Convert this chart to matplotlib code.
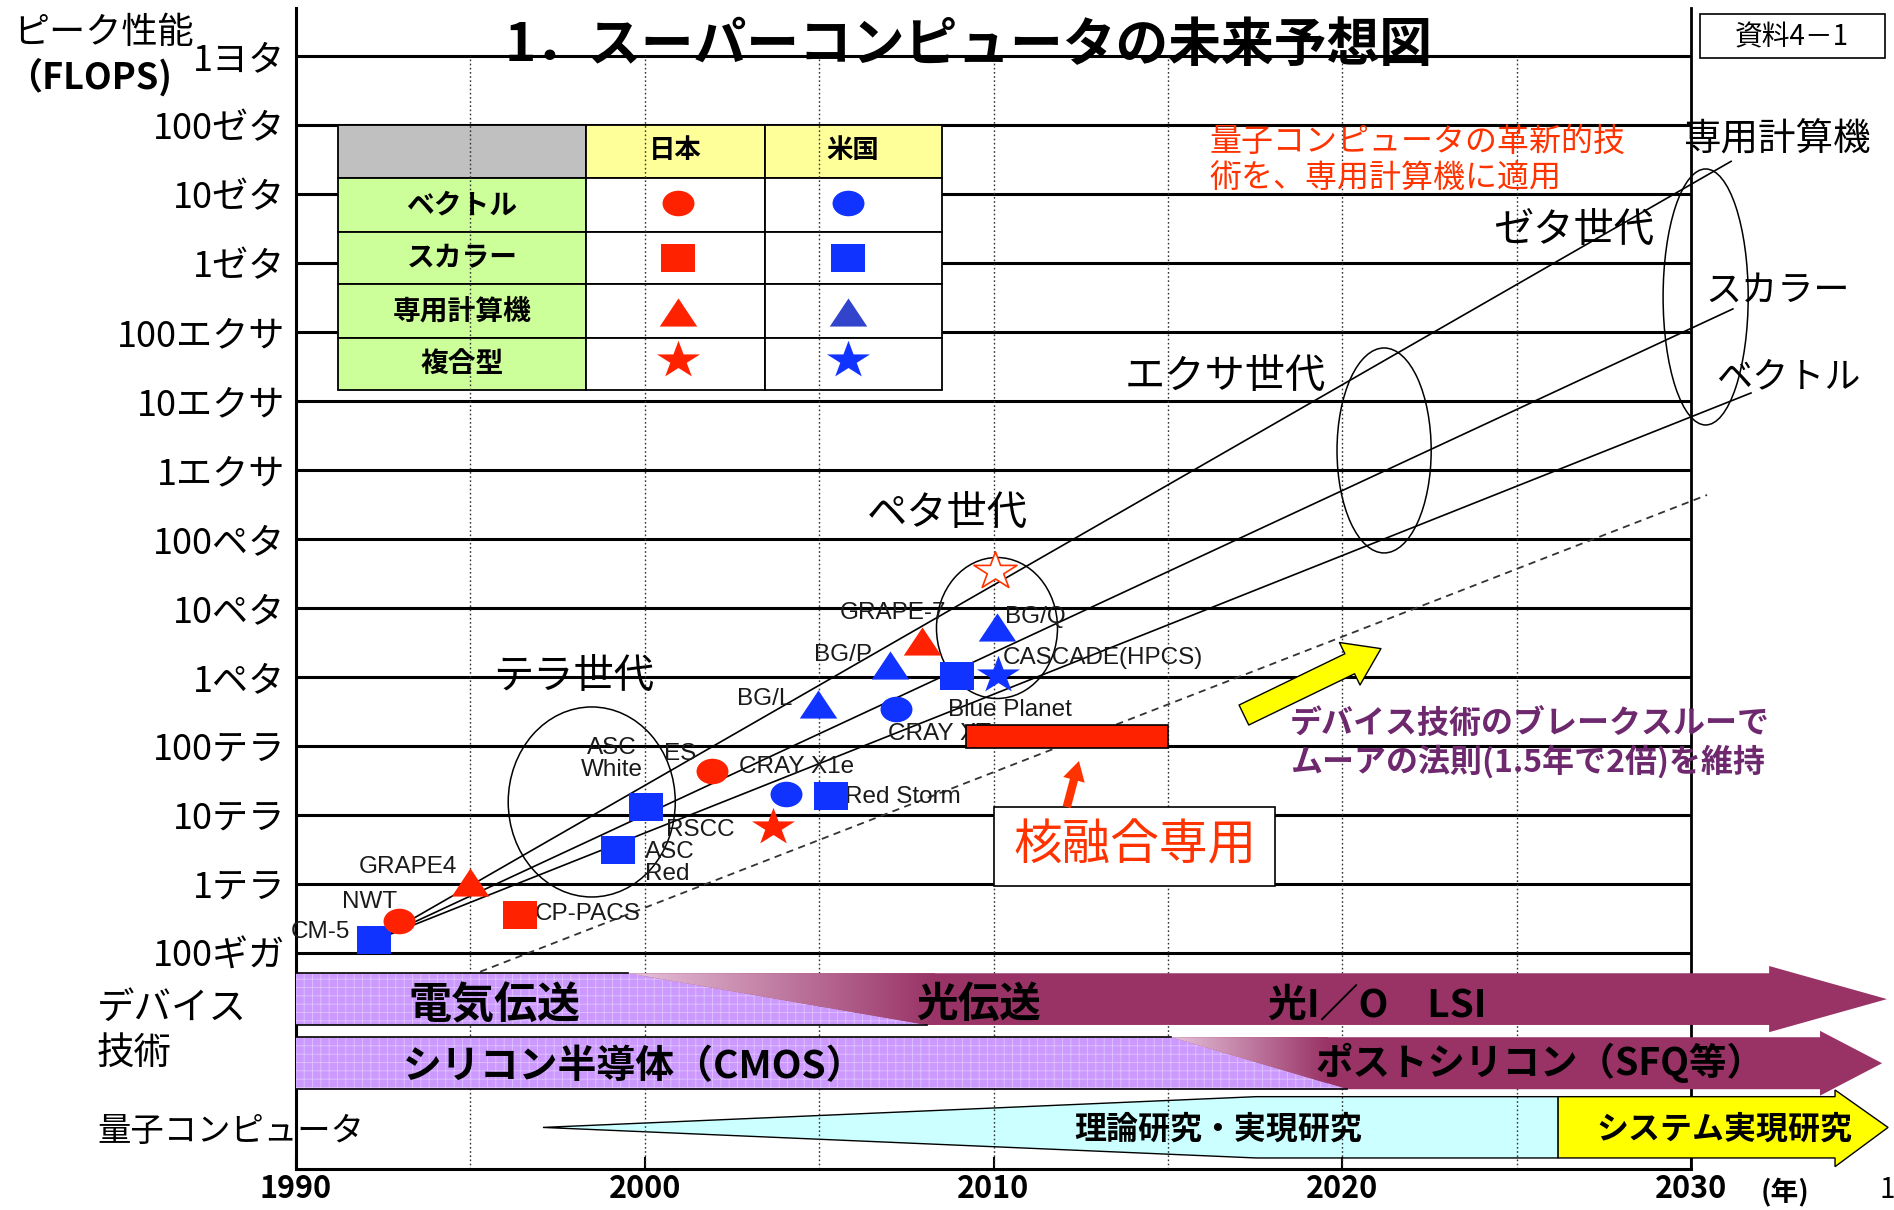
import numpy as np
import matplotlib.pyplot as plt
from matplotlib.patches import Polygon, Rectangle, Ellipse, FancyArrowPatch
from matplotlib.path import Path
from matplotlib.transforms import Affine2D

plt.rcParams['font.family'] = ['Noto Sans CJK JP', 'DejaVu Sans']
plt.rcParams['hatch.linewidth'] = 0.6

# ---- data ----
year_ticks = [1990, 2000, 2010, 2020, 2030]
flops_exp = list(range(11, 25))
flops_labels = ['100ギガ', '1テラ', '10テラ', '100テラ', '1ペタ', '10ペタ', '100ペタ',
                '1エクサ', '10エクサ', '100エクサ', '1ゼタ', '10ゼタ', '100ゼタ', '1ヨタ']

machine_year = [1992.24, 1992.96, 1995.0, 1996.42, 1999.24, 2000.05, 2001.93, 2003.69,
                2004.06, 2005.33, 2004.98, 2007.2, 2007.03, 2007.96, 2008.96, 2010.09, 2010.12]
machine_flops = [1.53e11, 2.9e11, 1.07e12, 3.5e11, 3.1e12, 1.3e13, 4.3e13, 6.7e12,
                 2.0e13, 1.85e13, 4.1e14, 3.4e14, 1.5e15, 3.3e15, 1.03e15, 5.3e15, 1.07e15]
machine_country = ['US', 'JP', 'JP', 'JP', 'US', 'US', 'JP', 'JP',
                   'US', 'US', 'US', 'US', 'US', 'JP', 'US', 'US', 'US']
machine_kind = ['scalar', 'vector', 'special', 'scalar', 'scalar', 'scalar', 'vector', 'hybrid',
                'vector', 'scalar', 'special', 'vector', 'special', 'special', 'scalar', 'special', 'hybrid']

target_year = 2010.04
target_flops = 3.4e16

label_text = ['CM-5', 'NWT', 'GRAPE4', 'CP-PACS', 'ASC\nRed', 'ASC\nWhite', 'ES', 'RSCC',
              'CRAY X1e', 'Red Storm', 'BG/L', 'CRAY XT', 'BG/P', 'GRAPE-7',
              'Blue Planet', 'BG/Q', 'CASCADE(HPCS)']
label_year = [1991.55, 1992.12, 1993.21, 1996.85, 2000.01, 1999.06, 2001.01, 2001.58,
              2002.70, 2005.74, 2003.45, 2006.97, 2005.68, 2007.12, 2008.70, 2010.33, 2010.27]
label_exp = [11.30, 11.736, 12.243, 11.562, 12.301, 13.81, 13.882, 12.78,
             13.694, 13.26, 14.68, 14.172, 15.318, 15.927, 14.52, 15.869, 15.274]
label_ha = ['right', 'center', 'center', 'left', 'left', 'center', 'center', 'center',
            'left', 'left', 'center', 'left', 'center', 'center', 'left', 'left', 'left']

trend_names = ['専用計算機', 'スカラー', 'ベクトル']
trend_start_year = 1992.29
trend_start_flops = 1.53e11
trend_end_year = [2031.15, 2031.20, 2031.72]
trend_end_flops = [3.0e22, 2.17e20, 1.31e19]
trend_label_year = [2032.47, 2032.47, 2032.78]
trend_label_exp = [22.787, 20.597, 19.35]

moore_year = [1995.28, 2030.46]
moore_flops = [5.3e10, 4.35e17]

gen_names = ['テラ世代', 'ペタ世代', 'エクサ世代', 'ゼタ世代']
gen_year = [1998.48, 2010.10, 2021.20, 2030.42]
gen_exp = [13.186, 15.709, 18.284, 20.510]
gen_width_years = [4.79, 3.47, 2.70, 2.44]
gen_height_dec = [2.756, 2.045, 2.973, 3.713]
gen_label_year = [1997.97, 2008.67, 2016.64, 2026.62]
gen_label_exp = [14.999, 17.363, 19.35, 21.481]

fusion_year = [2009.2, 2015.0]
fusion_flops = [9.3e13, 2.0e14]

RED = '#FF2200'
BLUE = '#1133FF'
PURPLE = '#CC99FF'
MAG = '#993366'

W, H = 1894, 1210
fig = plt.figure(figsize=(W / 100, H / 100), dpi=100)
ax = fig.add_axes([296 / W, (H - 1169.3) / H, (1691 - 296) / W, (1169.3 - 8) / H])
PX = Affine2D().scale(1 / W, -1 / H).translate(0, 1) + fig.transFigure
LAT = ['Liberation Sans', 'Noto Sans CJK JP']

# axes frame and ticks
ax.spines['top'].set_visible(False)
ax.spines['left'].set_linewidth(2.2)
ax.spines['bottom'].set_linewidth(2.2)
ax.spines['right'].set_linewidth(2.0)
ax.set_yticks(flops_exp, flops_labels, fontsize=26)
ax.tick_params(axis='y', length=0, pad=8)
ax.set_xticks(year_ticks, [str(y) for y in year_ticks], fontsize=22, fontweight='bold')
ax.tick_params(axis='x', direction='in', length=9, width=1.5, pad=3)

ymin, ymax = 7.8586, 24.701
ax.hlines(flops_exp, 1990, 2030, colors='black', lw=2.2, zorder=1)
ax.vlines(np.arange(1995, 2030, 5), ymin, 24, colors='#333333', lw=1.0,
          linestyles=(0, (1.2, 1.8)), zorder=2)

# legend table
cols = [338, 586, 765, 942]
rows = [125, 178, 232, 284, 338, 390]
kind_names = ['ベクトル', 'スカラー', '専用計算機', '複合型']
kinds = ['vector', 'scalar', 'special', 'hybrid']
for r in range(5):
    for c in range(3):
        if r == 0:
            fc = '#C0C0C0' if c == 0 else '#FFFF99'
        else:
            fc = '#CCFF99' if c == 0 else 'white'
        ax.add_patch(Rectangle((cols[c], rows[r]), cols[c + 1] - cols[c], rows[r + 1] - rows[r],
                               transform=PX, fc=fc, ec='black', lw=1.3, clip_on=False, zorder=1.5))
ax.text(675, 151, '日本', transform=PX, ha='center', va='center', fontsize=19, fontweight='bold')
ax.text(853, 151, '米国', transform=PX, ha='center', va='center', fontsize=19, fontweight='bold')
for i, nm in enumerate(kind_names):
    ax.text(462, (rows[i + 1] + rows[i + 2]) / 2, nm, transform=PX, ha='center', va='center',
            fontsize=20, fontweight='bold')

# marker shapes
uc = Path.unit_circle()
m_circle = Path(uc.vertices * [1, 0.8], uc.codes)
m_square = Path([(-1, -0.82), (1, -0.82), (1, 0.82), (-1, 0.82), (-1, -0.82)], closed=True)
m_tri = Path([(0, 0.75), (-1, -0.75), (1, -0.75), (0, 0.75)], closed=True)
us = Path.unit_regular_star(5, 0.381966)
m_star = Path(us.vertices * [1, 0.87], us.codes)
shape = {'vector': m_circle, 'scalar': m_square, 'special': m_tri, 'hybrid': m_star}
msize = {'vector': 23, 'scalar': 24, 'special': 27, 'hybrid': 31}
color = {'JP': RED, 'US': BLUE}

leg_y = [203, 258, 312, 360]
for i, k in enumerate(kinds):
    ax.plot([678], [leg_y[i]], transform=PX, marker=shape[k], ms=msize[k], color=RED,
            mew=0, ls='none', clip_on=False, zorder=3)
    ax.plot([848], [leg_y[i]], transform=PX, marker=shape[k], ms=msize[k],
            color='#3344CC' if k == 'special' else BLUE, mew=0, ls='none', clip_on=False, zorder=3)

# device technology bands
def device_band(top, bot, end_top, end_bot, head_base, head_tip, head_half, grad_end):
    ax.add_patch(Polygon([(1990, top), (end_top, top), (end_bot, bot), (1990, bot)], closed=True,
                         fc=PURPLE, ec='#E0C4FF', hatch='++', lw=0, zorder=3))
    ax.plot([1990, end_top], [top, top], color='black', lw=1.2, zorder=3.1)
    ax.plot([1990, end_bot], [bot, bot], color='black', lw=1.2, zorder=3.1)
    mid = (top + bot) / 2
    arrow = Polygon([(end_top, top), (head_base, top), (head_base, mid + head_half), (head_tip, mid),
                     (head_base, mid - head_half), (head_base, bot), (end_bot, bot)], closed=True,
                    fc=MAG, ec='none', zorder=3, clip_on=False)
    ax.add_patch(arrow)
    g = np.linspace(0, 1, 256)[None, :, None]
    c0 = np.array([0.90, 0.76, 0.86])
    c1 = np.array([0.60, 0.20, 0.40])
    im = ax.imshow(c0 + (c1 - c0) * g, extent=[end_top, grad_end, bot, top], aspect='auto',
                   zorder=3.05, interpolation='bilinear')
    im.set_clip_path(arrow)

device_band(10.702, 9.952, 1999.52, 2008.09, 2032.24, 2035.62, 0.48, 2008.3)
device_band(9.774, 9.020, 2015.1, 2020.15, 2033.70, 2035.48, 0.47, 2019.6)

q_top, q_bot, q_mid = 8.912, 8.023, 8.466
ax.add_patch(Polygon([(1997.08, q_mid), (2017.53, q_top), (2026.19, q_top), (2026.19, q_bot),
                      (2017.53, q_bot)], closed=True, fc='#CCFFFF', ec='black', lw=1.0, zorder=1.5))
ax.add_patch(Polygon([(2026.19, q_top), (2034.13, q_top), (2034.13, 9.009), (2035.65, q_mid),
                      (2034.13, 7.897), (2034.13, q_bot), (2026.19, q_bot)], closed=True,
                     fc='#FFFF00', ec='black', lw=1.0, zorder=3.5, clip_on=False))

band_text = [('電気伝送', 1995.68, 10.242, 31), ('光伝送', 2009.58, 10.242, 30),
             ('光I／O　LSI', 2021.0, 10.242, 28), ('シリコン半導体（CMOS）', 1999.69, 9.343, 28),
             ('ポストシリコン（SFQ等）', 2025.67, 9.401, 27), ('理論研究・実現研究', 2016.44, 8.43, 23),
             ('システム実現研究', 2030.95, 8.43, 23)]
for s, x, y, fs in band_text:
    ax.text(x, y, s, ha='center', va='center', fontsize=fs, fontweight='bold', zorder=6)

# trend lines and Moore's law
for i in range(3):
    ax.plot([trend_start_year, trend_end_year[i]],
            np.log10([trend_start_flops, trend_end_flops[i]]),
            color='black', lw=1.2, zorder=2.5, clip_on=False)
    ax.text(trend_label_year[i], trend_label_exp[i], trend_names[i], ha='center', va='center',
            fontsize=27 if i == 0 else 26)
ax.plot(moore_year, np.log10(moore_flops), color='#333333', lw=1.3, ls=(0, (4, 3)),
        zorder=2.5, clip_on=False)

# generation ellipses
for i in range(4):
    ax.add_patch(Ellipse((gen_year[i], gen_exp[i]), gen_width_years[i], gen_height_dec[i],
                         fill=False, ec='black', lw=1.1, zorder=2.5, clip_on=False))
    ax.text(gen_label_year[i], gen_label_exp[i], gen_names[i], ha='center', va='center', fontsize=29)

# machines
for x, f, c, k in zip(machine_year, machine_flops, machine_country, machine_kind):
    ax.plot([x], [np.log10(f)], marker=shape[k], ms=msize[k], color=color[c], mew=0,
            ls='none', zorder=5.5)
ax.plot([target_year], [np.log10(target_flops)], marker=m_star, ms=31, mfc='white',
        mec='#FF3300', mew=1.2, ls='none', zorder=5.5)
for s, x, y, ha in zip(label_text, label_year, label_exp, label_ha):
    ax.text(x, y, s, ha=ha, va='center', fontsize=17.5, family=LAT, color='#1a1a1a',
            linespacing=1.0, zorder=4.5)

# fusion machine
fy0, fy1 = np.log10(fusion_flops)
ax.add_patch(Rectangle((fusion_year[0], fy0), fusion_year[1] - fusion_year[0], fy1 - fy0,
                       fc=RED, ec='black', lw=1.2, zorder=5))
ax.add_patch(Rectangle((2010.01, 11.967), 8.06, 1.146, fc='white', ec='black', lw=1.2, zorder=4.8))
ax.text(2014.06, 12.548, '核融合専用', ha='center', va='center', fontsize=35, color='#FF3300', zorder=6)
ax.add_patch(FancyArrowPatch((2012.10, 13.113), (2012.45, 13.78),
                             arrowstyle='simple,head_length=14,head_width=16,tail_width=6',
                             fc='#FF3300', ec='none', shrinkA=0, shrinkB=0, zorder=5))

# Moore's law annotation
ax.add_patch(FancyArrowPatch((2017.18, 14.447), (2021.11, 15.41),
                             arrowstyle='simple,head_length=25,head_width=34,tail_width=16',
                             fc='#FFFF00', ec='black', lw=1.0, shrinkA=0, shrinkB=0, zorder=5))
ax.text(2018.50, 14.027, 'デバイス技術のブレークスルーで\nムーアの法則(1.5年で2倍)を維持',
        ha='left', va='center', fontsize=23, fontweight='bold', color='#6E286E', linespacing=1.15)
ax.text(2016.18, 22.489, '量子コンピュータの革新的技\n術を、専用計算機に適用',
        ha='left', va='center', fontsize=23, color='#FF3300', linespacing=1.2)

# titles and side labels (figure pixel positions)
ax.text(969, 45, '1．スーパーコンピュータの未来予想図', transform=PX, ha='center', va='center',
        fontsize=38, fontweight='bold')
ax.add_patch(Rectangle((1700, 14), 185, 44, transform=PX, fc='white', ec='black', lw=1.2,
                       clip_on=False, zorder=3))
ax.text(1792, 37, '資料4－1', transform=PX, ha='center', va='center', fontsize=20, zorder=4)
ax.text(13, 33, 'ピーク性能', transform=PX, ha='left', va='center', fontsize=26)
ax.text(6, 77, '（FLOPS)', transform=PX, ha='left', va='center', fontsize=26, fontweight='bold')
ax.text(97, 1008, 'デバイス', transform=PX, ha='left', va='center', fontsize=27)
ax.text(97, 1053, '技術', transform=PX, ha='left', va='center', fontsize=27)
ax.text(97, 1131, '量子コンピュータ', transform=PX, ha='left', va='center', fontsize=24, zorder=6)
ax.text(1785, 1193, '(年)', transform=PX, ha='center', va='center', fontsize=20, fontweight='bold')
ax.text(1887, 1190, '1', transform=PX, ha='center', va='center', fontsize=20)

ax.set_xlim(1990, 2030)
ax.set_ylim(ymin, ymax)
fig.savefig('out.png', dpi=100)
